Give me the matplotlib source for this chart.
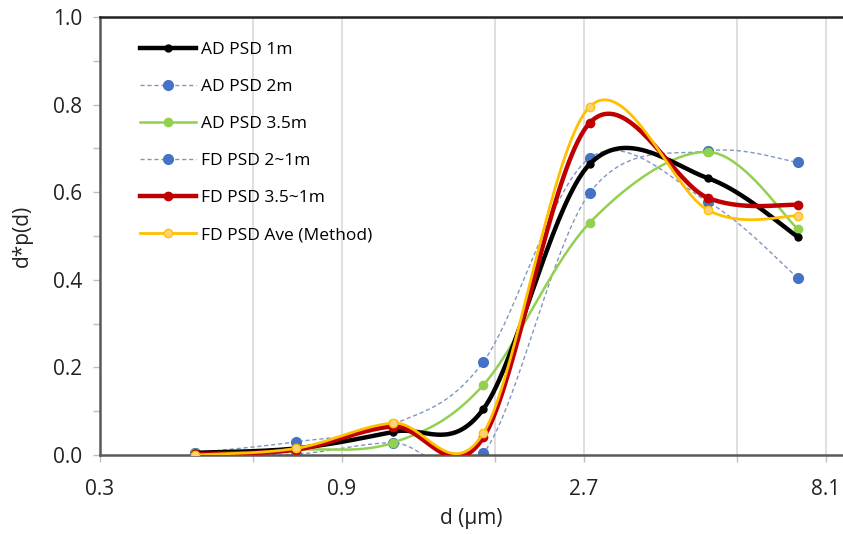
import numpy as np
import matplotlib
matplotlib.use("Agg")
import matplotlib.pyplot as plt
from matplotlib.ticker import FixedLocator, NullFormatter, FixedFormatter

plt.rcParams['font.family'] = ['Open Sans', 'DejaVu Sans']

# data
d = [0.462, 0.730, 1.134, 1.71, 2.77, 4.74, 7.13]
series_names = ["AD PSD 1m", "AD PSD 2m", "AD PSD 3.5m", "FD PSD 2~1m", "FD PSD 3.5~1m", "FD PSD Ave (Method)"]
ad_1m   = [0.005, 0.015, 0.053, 0.105, 0.664, 0.632, 0.498]
ad_2m   = [0.005, 0.030, 0.070, 0.213, 0.678, 0.578, 0.404]
ad_35m  = [0.005, 0.012, 0.028, 0.160, 0.530, 0.692, 0.516]
fd_21m  = [0.004, 0.002, 0.028, 0.004, 0.598, 0.694, 0.668]
fd_351m = [0.002, 0.012, 0.065, 0.040, 0.758, 0.587, 0.571]
fd_ave  = [0.000, 0.015, 0.073, 0.050, 0.795, 0.559, 0.546]
x_ticks = [0.3, 0.9, 2.7, 8.1]
x_tick_labels = ["0.3", "0.9", "2.7", "8.1"]
x_minor = [0.6, 1.8, 5.4]
y_ticks = [0.0, 0.2, 0.4, 0.6, 0.8, 1.0]


def smooth(x, y, n=40):
    # Catmull-Rom (Excel-like smoothing) in (log x, y)
    lx = np.log10(np.asarray(x, float))
    yy = np.asarray(y, float)
    P = np.column_stack([lx, yy])
    P = np.vstack([P[0], P, P[-1]])
    out = []
    for i in range(1, len(P) - 2):
        p0, p1, p2, p3 = P[i - 1], P[i], P[i + 1], P[i + 2]
        c1 = p1 + (p2 - p0) / 6.0
        c2 = p2 - (p3 - p1) / 6.0
        t = np.linspace(0, 1, n)[:, None]
        seg = ((1 - t) ** 3) * p1 + 3 * ((1 - t) ** 2) * t * c1 + 3 * (1 - t) * t ** 2 * c2 + t ** 3 * p2
        out.append(seg if i == 1 else seg[1:])
    out = np.vstack(out)
    return 10 ** out[:, 0], out[:, 1]


fig = plt.figure(figsize=(8.43, 5.34), dpi=100)
ax = fig.add_axes([100 / 843, 79 / 534, 743 / 843, 438 / 534])

styles = [
    (ad_1m,   dict(color='black', lw=3.2, ls='-'), dict(ms=5, mfc='black', mec='black')),
    (ad_2m,   dict(color='#8096BF', lw=1.0, ls=(0, (3, 2))), dict(ms=7, mfc='#4472C4', mec='#4472C4')),
    (ad_35m,  dict(color='#92D050', lw=1.8, ls='-'), dict(ms=6, mfc='#92D050', mec='#92D050')),
    (fd_21m,  dict(color='#8096BF', lw=1.0, ls=(0, (3, 2))), dict(ms=7, mfc='#4472C4', mec='#4472C4')),
    (fd_351m, dict(color='#C00000', lw=3.2, ls='-'), dict(ms=6, mfc='#C00000', mec='#C00000')),
    (fd_ave,  dict(color='#FFC000', lw=2.0, ls='-'), dict(ms=6, mfc='#FFD27A', mec='#FFC000')),
]

handles = []
zs = {0: 5, 1: 2, 2: 3, 3: 2, 4: 6, 5: 7}
for i in range(len(styles)):
    vals, ls, ms = styles[i]
    sx, sy = smooth(d, vals)
    ax.plot(sx, sy, zorder=zs[i], solid_capstyle='round', **ls)
    ax.plot(d, vals, ls='none', marker='o', markersize=ms['ms'], markerfacecolor=ms['mfc'],
            markeredgecolor=ms['mec'], markeredgewidth=1, zorder=zs[i] + 0.5)
for i in range(len(styles)):
    vals, ls, ms = styles[i]
    h, = ax.plot([], [], marker='o', markersize=ms['ms'], markerfacecolor=ms['mfc'],
                 markeredgecolor=ms['mec'], label=series_names[i], **ls)
    handles.append(h)

ax.set_xscale('log')
ax.set_xlim(0.3, 8.75)
ax.set_ylim(0, 1.0)
ax.xaxis.set_major_locator(FixedLocator(x_ticks))
ax.xaxis.set_major_formatter(FixedFormatter(x_tick_labels))
ax.xaxis.set_minor_locator(FixedLocator(x_minor))
ax.xaxis.set_minor_formatter(NullFormatter())
ax.set_yticks(y_ticks)
ax.set_yticklabels([f"{v:.1f}" for v in y_ticks])
ax.yaxis.set_minor_locator(FixedLocator([0.1, 0.3, 0.5, 0.7, 0.9]))

ax.grid(True, which='both', axis='x', color='#D9D9D9', lw=1.2, zorder=0)
ax.set_axisbelow(True)

for s in ['left', 'bottom']:
    ax.spines[s].set_color('#595959')
    ax.spines[s].set_linewidth(1.8)
ax.spines['top'].set_color('#222222')
ax.spines['top'].set_linewidth(1.8)
ax.spines['right'].set_visible(False)

ax.tick_params(axis='both', which='both', direction='out', color='#BFBFBF', labelcolor='#222222')
ax.tick_params(axis='both', which='major', length=5, width=1, labelsize=15)
ax.tick_params(axis='both', which='minor', length=5, width=1)
ax.tick_params(axis='x', which='major', pad=12)
ax.tick_params(axis='y', which='major', pad=8)

ax.set_ylabel("d*p(d)", fontsize=15, color='#222222', labelpad=14)
ax.set_xlabel("d (μm)", fontsize=15, color='#222222', labelpad=6)

leg = ax.legend(handles=handles, loc='upper left', bbox_to_anchor=(0.045, 0.958), frameon=False,
                fontsize=12.5, handlelength=3.2, handletextpad=0.3, labelspacing=1.2,
                borderaxespad=0)

fig.savefig("out.png", dpi=100)
